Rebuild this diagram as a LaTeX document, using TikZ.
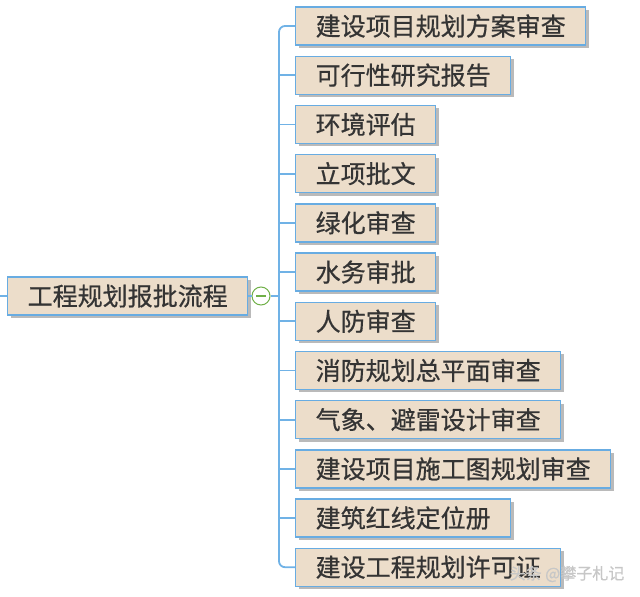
\documentclass[tikz,border=0pt]{standalone}
\usepackage{fontspec}
\setmainfont{Noto Sans CJK SC}[FakeBold=0.6]
\usetikzlibrary{shadows}
\definecolor{boxfill}{RGB}{236,221,202}
\definecolor{boxline}{RGB}{104,172,226}
\definecolor{connline}{RGB}{112,178,230}
\definecolor{txt}{RGB}{52,52,52}
\definecolor{knob}{RGB}{112,176,72}
\tikzset{
  topicbox/.style={draw=boxline, line width=1.4pt, fill=boxfill, text=txt,
    font=\fontsize{25}{25}\selectfont, inner xsep=20pt, inner ysep=0pt,
    minimum height=38pt, anchor=west,
    drop shadow={shadow xshift=3pt, shadow yshift=-3pt, fill=black!45, opacity=0.6}},
  conn/.style={draw=connline, line width=1.8pt},
  knobstyle/.style={circle, draw=knob, line width=1pt, fill=white, minimum size=18pt, inner sep=0pt},
  wmark/.style={font=\fontsize{16}{16}\selectfont, inner sep=0pt, text=black!22}
}
\begin{document}
\begin{tikzpicture}[x=1pt,y=-1pt]
\useasboundingbox (0,0) rectangle (640,597);
\node[topicbox] (root) at (7,296) {工程规划报批流程};
\node[topicbox] (c1) at (295,26) {建设项目规划方案审查};
\node[topicbox] (c2) at (295,75.2) {可行性研究报告};
\node[topicbox] (c3) at (295,124.4) {环境评估};
\node[topicbox] (c4) at (295,173.6) {立项批文};
\node[topicbox] (c5) at (295,222.8) {绿化审查};
\node[topicbox] (c6) at (295,272) {水务审批};
\node[topicbox] (c7) at (295,321.2) {人防审查};
\node[topicbox] (c8) at (295,370.4) {消防规划总平面审查};
\node[topicbox] (c9) at (295,419.6) {气象、避雷设计审查};
\node[topicbox] (c10) at (295,468.8) {建设项目施工图规划审查};
\node[topicbox] (c11) at (295,518) {建筑红线定位册};
\node[topicbox] (c12) at (295,567.2) {建设工程规划许可证};
\coordinate (lstart) at (0,296);
\coordinate (trunk) at (279,296);
\node[knobstyle] (knob) at (261,296) {};
\draw[conn] (lstart) -- (root.west);
\draw[conn] (root.east) -- (knob.west);
\draw[conn] (knob.east) -- (trunk);
\draw[conn, rounded corners=6pt] (c1.west) -| (trunk) |- (c12.west);
\foreach \i in {2,...,11} { \draw[conn] (c\i.west) -- (c\i.west -| trunk); }
\draw[knob, line width=1.6pt] ([xshift=-5pt]knob.center) -- ([xshift=5pt]knob.center);
\node[wmark] (wm) at (567,574) {头条 @攀子札记};
\end{tikzpicture}
\end{document}
